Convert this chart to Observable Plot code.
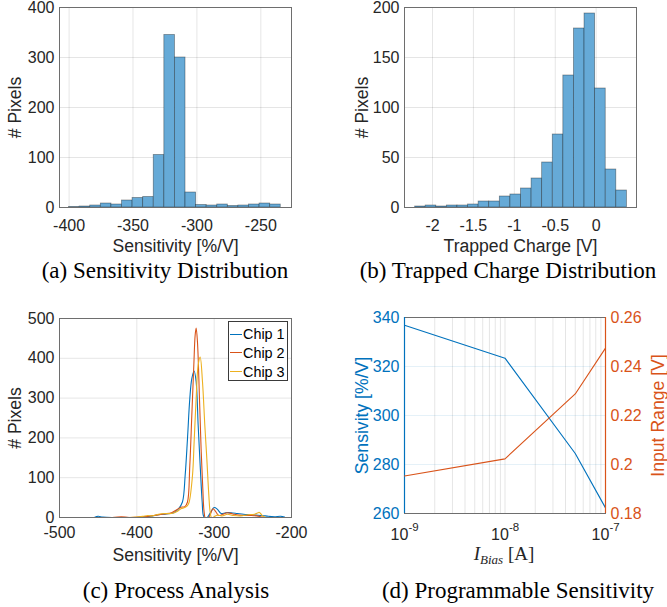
<!DOCTYPE html>
<html>
<head>
<meta charset="utf-8">
<script src="https://cdn.jsdelivr.net/npm/d3@7"></script>
<script src="https://cdn.jsdelivr.net/npm/@observablehq/plot@0.6"></script>
<style>
  html, body { margin: 0; padding: 0; background: #fff; }
  #fig { position: relative; width: 667px; height: 607px; overflow: hidden; background: #fff; }
  .panel { position: absolute; }
  #fig .panel svg { position: absolute; left: 0; top: 0; font-size: 16px; font-family: "Liberation Sans", Arial, Helvetica, sans-serif;
                    color: #262626; background: transparent; overflow: visible; max-width: none; }
  .cap { position: absolute; font-family: "Liberation Serif", "Times New Roman", serif; font-size: 23px; color: #000;
         white-space: nowrap; transform: translate(-50%, -50%); line-height: 1; }
  #legend { position: absolute; left: 228px; top: 321px; width: 58px; height: 58px; border: 1px solid #3a3a3a;
            background: #fff; font-family: "Liberation Sans", Arial, sans-serif; font-size: 14.4px; color: #000; }
  #legend .row { position: absolute; left: 0; height: 18px; width: 58px; }
  #legend .ln { position: absolute; left: 1px; top: 8.5px; width: 12px; height: 1.2px; }
  #legend .tx { position: absolute; left: 14px; top: 0; line-height: 18px; white-space: nowrap; }
  #ibias { position: absolute; left: 504px; top: 555px; transform: translate(-50%, -50%); white-space: nowrap;
           font-family: "Liberation Serif", "Times New Roman", serif; font-size: 19px; color: #262626; line-height: 1; }
  #ibias sub { font-size: 13px; vertical-align: -4px; }
</style>
</head>
<body>
<div id="fig">
  <div class="panel" id="pa" style="left:0px;top:0px;width:333px;height:255px"></div>
  <div class="panel" id="pb" style="left:333px;top:0px;width:334px;height:255px"></div>
  <div class="panel" id="pc" style="left:0px;top:311px;width:333px;height:250px"></div>
  <div class="panel" id="pd" style="left:333px;top:311px;width:334px;height:250px"></div>
  <div id="legend"></div>
  <div id="ibias"><i>I</i><sub><i>Bias</i></sub> [A]</div>
  <div class="cap" style="left:165px;top:270px">(a) Sensitivity Distribution</div>
  <div class="cap" style="left:508px;top:270px">(b) Trapped Charge Distribution</div>
  <div class="cap" style="left:176px;top:590px">(c) Process Analysis</div>
  <div class="cap" style="left:518px;top:590px">(d) Programmable Sensitivity</div>
</div>
<script>
// ---------------- DATA ----------------
// (a) Sensitivity histogram
const sensEdges = [-400, -391.72, -383.44, -375.16, -366.88, -358.6, -350.32, -342.04, -333.76, -325.48, -317.2,
                   -308.92, -300.64, -292.36, -284.08, -275.8, -267.52, -259.24, -250.96, -242.68, -234.4];
const sensCounts = [1, 2, 4, 8, 6, 14, 19, 21, 105, 345, 300, 30, 5, 4, 6, 3, 4, 6, 8, 6];
const sensTicks = [-400, -350, -300, -250];
const sensCountTicks = [0, 100, 200, 300, 400];

// (b) Trapped charge histogram
const trapEdges = [-2.212, -2.083, -1.954, -1.824, -1.695, -1.565, -1.436, -1.307, -1.177, -1.048, -0.918,
                   -0.789, -0.660, -0.530, -0.401, -0.271, -0.142, -0.013, 0.117, 0.246, 0.376];
const trapCounts = [1, 2, 1, 2, 2, 3, 6, 6, 11, 13, 19, 29, 45, 73, 132, 179, 194, 119, 38, 17];
const trapTicks = [-2, -1.5, -1, -0.5, 0];
const trapCountTicks = [0, 50, 100, 150, 200];

// (c) Process analysis (per-chip distributions)
const chipNames = ["Chip 1", "Chip 2", "Chip 3"];
const chipColors = ["#0072BD", "#D95319", "#EDB120"];
const chip1X = [-455, -450, -444, -430, -400, -392, -382, -372, -362, -352, -346, -341, -337.5, -334.5, -331.5, -328.9,
                -325.9, -323.3, -320.7, -318.1, -315.5, -313.8, -311, -308, -304, -300, -296, -291, -285, -278, -270,
                -262, -254, -246, -238, -230, -222, -214, -209];
const chip1Y = [0, 3, 1, 0, 0, 2, 3, 7, 9, 12, 22, 39, 106, 198, 299, 349,
                368, 341, 232, 131, 39, 4, -3, 2, 15, 25, 21, 10, 12, 12, 10,
                8, 7, 6, 5, 3, 2, 3, 1];
const chip2X = [-432, -420, -410, -395, -385, -375, -365, -355, -348, -343, -338, -334.5, -331.5, -328.9, -326.3, -324.6,
                -323.3, -321.6, -319, -316.9, -314.7, -313, -311, -308, -305, -301.5, -298, -294, -289, -283, -276,
                -268, -260, -252, -245, -240, -236];
const chip2Y = [0, 2, 0, 1, 3, 6, 9, 12, 20, 26, 27, 39, 131, 257, 383, 458,
                476, 441, 299, 173, 73, 14, -4, -3, 8, 22, 15, 5, 8, 12, 9,
                6, 5, 5, 4, 2, 0];
const chip3X = [-412, -400, -392, -386, -380, -372, -365, -355, -348, -343, -338, -334.5, -332.3, -328, -325.9, -323.3,
                -320.7, -318.1, -315.1, -312.1, -309.5, -306.9, -305.2, -303, -300, -296, -290, -283, -275, -266,
                -256, -248, -244, -242, -240, -237, -233];
const chip3Y = [0, 1, 3, 5, 4, 8, 10, 10, 15, 22, 25, 30, 39, 106, 190, 299,
                383, 403, 341, 232, 148, 56, 14, -2, 2, 6, 4, 8, 5, 4,
                7, 8, 11, 13, 10, 3, 0];
const procTicks = [-500, -400, -300, -200];
const procCountTicks = [0, 100, 200, 300, 400, 500];

// (d) Programmable sensitivity
const ibias = [1e-9, 1e-8, 5e-8, 1e-7];
const sensitivity = [336.8, 323.4, 284.5, 262.3];
const inputRange = [0.1953, 0.2023, 0.2288, 0.2475];
const ibiasTicks = [1e-9, 1e-8, 1e-7];
const ibiasTickBase = "10";
const ibiasTickExponents = ["-9", "-8", "-7"];
const sensTicksD = [260, 280, 300, 320, 340];
const rangeTicks = [0.18, 0.2, 0.22, 0.24, 0.26];

// ---------------- COMMON ----------------
const style = "font-size:16px;font-family:'Liberation Sans',Arial,Helvetica,sans-serif;color:#262626;background:transparent;overflow:visible;max-width:none;";
const gridStyle = {stroke: "#000", strokeOpacity: 0.1, strokeWidth: 1};
const frameStroke = "#6e6e6e";
const barFill = "#66aad7";
const LABEL_SIZE = 17.6;
const fmt = d => String(d);

// axis titles drawn as text marks anchored to the frame
const xTitle = (label, dy, fill = "#262626") =>
  Plot.text([label], {text: d => d, frameAnchor: "bottom", dy, fontSize: LABEL_SIZE, fill,
                      textAnchor: "middle", lineAnchor: "middle"});
const yTitle = (label, dx, anchor = "left", fill = "#262626") =>
  Plot.text([label], {text: d => d, frameAnchor: anchor, dx, rotate: -90, fontSize: LABEL_SIZE, fill,
                      textAnchor: "middle", lineAnchor: "middle"});

function histogram(el, {edges, counts, xDomain, yDomain, xTicks, yTicks, xLabel, marginLeft, marginRight, yLabelDx}) {
  const bins = counts.map((c, i) => ({x1: edges[i], x2: edges[i + 1], y: c}));
  const p = Plot.plot({
    width: +el.style.width.replace("px", ""), height: 255,
    marginLeft, marginRight, marginTop: 7, marginBottom: 48,
    style,
    x: {domain: xDomain},
    y: {domain: yDomain},
    marks: [
      Plot.gridX({ticks: xTicks, ...gridStyle}),
      Plot.gridY({ticks: yTicks, ...gridStyle}),
      Plot.rect(bins, {x1: "x1", x2: "x2", y1: 0, y2: "y", fill: barFill, stroke: "#000", strokeOpacity: 0.4, strokeWidth: 0.8}),
      Plot.axisX({ticks: xTicks, tickSize: 0, tickPadding: 12, tickFormat: fmt, fontSize: 16, label: null}),
      Plot.axisY({ticks: yTicks, tickSize: 0, tickPadding: 5, tickFormat: fmt, fontSize: 16, label: null}),
      xTitle(xLabel, 39),
      yTitle("# Pixels", yLabelDx),
      Plot.frame({stroke: frameStroke})
    ]
  });
  el.appendChild(p);
}

histogram(document.getElementById("pa"), {
  edges: sensEdges, counts: sensCounts, xDomain: [-407.5, -226], yDomain: [0, 400],
  xTicks: sensTicks, yTicks: sensCountTicks, xLabel: "Sensitivity [%/V]",
  marginLeft: 59, marginRight: 42, yLabelDx: -44
});

histogram(document.getElementById("pb"), {
  edges: trapEdges, counts: trapCounts, xDomain: [-2.342, 0.493], yDomain: [0, 200],
  xTicks: trapTicks, yTicks: trapCountTicks, xLabel: "Trapped Charge [V]",
  marginLeft: 71, marginRight: 31, yLabelDx: -42.5
});

// (c)
{
  const rows = [];
  [[chip1X, chip1Y], [chip2X, chip2Y], [chip3X, chip3Y]].forEach(([xs, ys], k) => {
    xs.forEach((x, i) => rows.push({chip: chipNames[k], x, y: ys[i]}));
  });
  const p = Plot.plot({
    width: 333, height: 250,
    marginLeft: 59, marginRight: 42, marginTop: 7, marginBottom: 44,
    style,
    x: {domain: [-500, -200]},
    y: {domain: [0, 500]},
    color: {domain: chipNames, range: chipColors},
    marks: [
      Plot.gridX({ticks: procTicks, ...gridStyle}),
      Plot.gridY({ticks: procCountTicks, ...gridStyle}),
      Plot.line(rows, {x: "x", y: "y", z: "chip", stroke: "chip", strokeWidth: 1.1, curve: "catmull-rom", clip: true}),
      Plot.axisX({ticks: procTicks, tickSize: 0, tickPadding: 9, tickFormat: fmt, fontSize: 16, label: null}),
      Plot.axisY({ticks: procCountTicks, tickSize: 0, tickPadding: 5, tickFormat: fmt, fontSize: 16, label: null}),
      xTitle("Sensitivity [%/V]", 38),
      yTitle("# Pixels", -44),
      Plot.frame({stroke: frameStroke})
    ]
  });
  document.getElementById("pc").appendChild(p);

  const lg = document.getElementById("legend");
  chipNames.forEach((name, i) => {
    const r = document.createElement("div");
    r.className = "row";
    r.style.top = (3 + i * 18.8) + "px";
    r.innerHTML = `<span class="ln" style="background:${chipColors[i]}"></span><span class="tx">${name}</span>`;
    lg.appendChild(r);
  });
}

// (d) dual axis
{
  const rows = ibias.map((b, i) => ({b, s: sensitivity[i], r: inputRange[i]}));
  const common = {width: 334, height: 250, marginLeft: 71, marginRight: 62, marginTop: 6, marginBottom: 48};
  const blue = chipColors[0], orange = chipColors[1];
  const left = Plot.plot({
    ...common, style,
    x: {type: "log", domain: [1e-9, 1e-7], axis: null},
    y: {domain: [260, 340]},
    marks: [
      Plot.gridX({ticks: 20, ...gridStyle}),
      Plot.gridY({ticks: sensTicksD, stroke: blue, strokeOpacity: 0.1}),
      Plot.frame({stroke: frameStroke}),
      Plot.line(rows, {x: "b", y: "s", stroke: blue, strokeWidth: 1.1}),
      // power-of-ten tick labels: base plus raised exponent
      Plot.text(ibiasTicks, {x: d => d, text: () => ibiasTickBase, frameAnchor: "bottom", dy: 21, dx: -5,
                             fontSize: 16, fill: "#262626", lineAnchor: "middle"}),
      Plot.text(ibiasTicks, {x: d => d, text: (d, i) => ibiasTickExponents[i], frameAnchor: "bottom", dy: 14, dx: 9,
                             fontSize: 11.5, fill: "#262626", lineAnchor: "middle"}),
      Plot.axisY({ticks: sensTicksD, tickSize: 0, tickPadding: 5, tickFormat: fmt, color: blue, fontSize: 16, label: null}),
      yTitle("Sensivity [%/V]", -42.5, "left", blue),
      Plot.ruleX([1e-9], {stroke: blue, strokeWidth: 1.2})
    ]
  });
  const right = Plot.plot({
    ...common, style,
    x: {type: "log", domain: [1e-9, 1e-7], axis: null},
    y: {domain: [0.18, 0.26]},
    marks: [
      Plot.line(rows, {x: "b", y: "r", stroke: orange, strokeWidth: 1.1}),
      Plot.axisY({anchor: "right", ticks: rangeTicks, tickSize: 0, tickPadding: 5, tickFormat: fmt, color: orange, fontSize: 16, label: null}),
      yTitle("Input Range [V]", 53, "right", orange),
      Plot.ruleX([1e-7], {stroke: orange, strokeWidth: 1.2})
    ]
  });
  const pd = document.getElementById("pd");
  pd.appendChild(left);
  pd.appendChild(right);
}
</script>
</body>
</html>
